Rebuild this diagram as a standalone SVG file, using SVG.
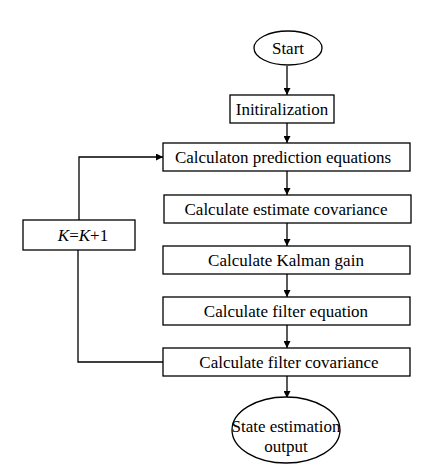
<svg xmlns="http://www.w3.org/2000/svg" width="443" height="473" viewBox="0 0 443 473">
<style>
.n{fill:#fff;stroke:#000;stroke-width:1.3}
.t{font-family:"Liberation Serif","Times New Roman",serif;font-size:17px;fill:#000;text-anchor:middle}
.c{fill:none;stroke:#000;stroke-width:1.3}
</style>
<defs>
<marker id="a" viewBox="0 0 10 10" refX="10" refY="5" markerWidth="7" markerHeight="7" markerUnits="userSpaceOnUse" orient="auto">
<path d="M0,0 L10,5 L0,10 z" fill="#000"/>
</marker>
</defs>
<rect width="443" height="473" fill="#fff"/>
<g id="connectors">
<line class="c" x1="287" y1="66" x2="287" y2="95" marker-end="url(#a)"/>
<line class="c" x1="287" y1="123" x2="287" y2="143" marker-end="url(#a)"/>
<line class="c" x1="287" y1="171" x2="287" y2="195" marker-end="url(#a)"/>
<line class="c" x1="287" y1="223" x2="287" y2="246" marker-end="url(#a)"/>
<line class="c" x1="287" y1="274" x2="287" y2="297" marker-end="url(#a)"/>
<line class="c" x1="287" y1="325" x2="287" y2="348" marker-end="url(#a)"/>
<line class="c" x1="287" y1="376" x2="287" y2="398" marker-end="url(#a)"/>
<polyline class="c" points="163,362 78,362 78,250"/>
<polyline class="c" points="79,220 79,157 163,157" marker-end="url(#a)"/>
</g>
<g id="start"><ellipse class="n" cx="288" cy="48" rx="34" ry="17"/><text class="t" x="288" y="54">Start</text></g>
<g id="init"><rect class="n" x="230" y="95" width="104" height="28"/><text class="t" x="282" y="115">Initiralization</text></g>
<g id="predict"><rect class="n" x="163" y="143" width="247" height="28"/><text class="t" x="283" y="163">Calculaton prediction equations</text></g>
<g id="estcov"><rect class="n" x="164" y="195" width="247" height="28"/><text class="t" x="286" y="215">Calculate estimate covariance</text></g>
<g id="kalman"><rect class="n" x="163" y="246" width="247" height="28"/><text class="t" x="286" y="266">Calculate Kalman gain</text></g>
<g id="filtereq"><rect class="n" x="163" y="297" width="247" height="28"/><text class="t" x="286" y="317">Calculate filter equation</text></g>
<g id="filtercov"><rect class="n" x="163" y="348" width="247" height="28"/><text class="t" x="289" y="368">Calculate filter covariance</text></g>
<g id="k"><rect class="n" x="23" y="220" width="112" height="30"/><text class="t" x="83" y="241"><tspan font-style="italic">K</tspan>=<tspan font-style="italic">K</tspan>+1</text></g>
<g id="output"><ellipse class="n" cx="286" cy="430" rx="54" ry="33"/><text class="t" x="286" y="432">State estimation</text><text class="t" x="286" y="452">output</text></g>
</svg>
